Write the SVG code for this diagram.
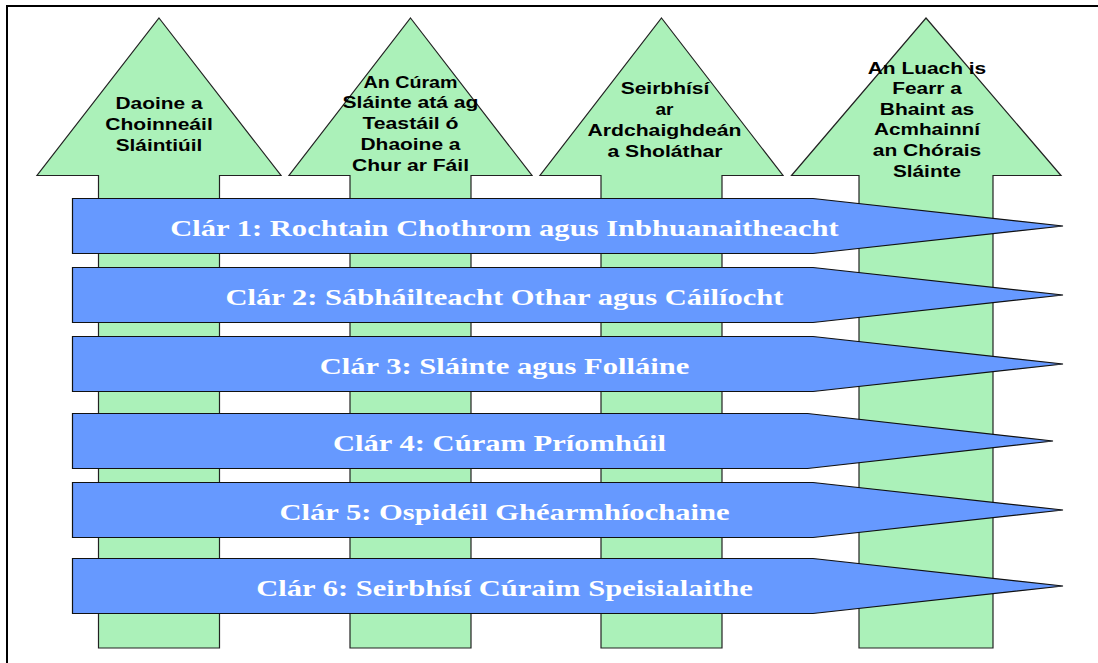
<svg xmlns="http://www.w3.org/2000/svg" width="1098" height="663" viewBox="0 0 1098 663">
<defs>
<style>
.arrow{fill:#ABF1B9;stroke:#222;stroke-width:1.2}
.banner{fill:#6699FF;stroke:#111;stroke-width:1.2}
.at{font-family:"Liberation Sans",Arial,sans-serif;font-weight:bold;font-size:16px;fill:#000;text-anchor:middle}
.bt{font-family:"Liberation Serif","Times New Roman",serif;font-weight:bold;font-size:23.5px;fill:#fff;text-anchor:middle}
</style>
</defs>
<rect x="0" y="0" width="1098" height="663" fill="#fff"/>
<rect id="frame" x="7" y="6" width="1200" height="720" fill="none" stroke="#000" stroke-width="2"/>

<g id="arrow1">
<polygon class="arrow" points="159,18 281,175.5 219.5,175.5 219.5,648 98.5,648 98.5,175.5 37,175.5"/>
<text class="at" x="159" y="109" textLength="87" lengthAdjust="spacingAndGlyphs">Daoine a</text>
<text class="at" x="159" y="130" textLength="107.5" lengthAdjust="spacingAndGlyphs">Choinneáil</text>
<text class="at" x="159" y="150.5" textLength="86.5" lengthAdjust="spacingAndGlyphs">Sláintiúil</text>
</g>

<g id="arrow2">
<polygon class="arrow" points="410.5,18 532,175.5 471,175.5 471,648 350,648 350,175.5 289,175.5"/>
<text class="at" x="410.5" y="87.5" textLength="94" lengthAdjust="spacingAndGlyphs">An Cúram</text>
<text class="at" x="410.5" y="108.3" textLength="136" lengthAdjust="spacingAndGlyphs">Sláinte atá ag</text>
<text class="at" x="410.5" y="129.2" textLength="96" lengthAdjust="spacingAndGlyphs">Teastáil ó</text>
<text class="at" x="410.5" y="150" textLength="100" lengthAdjust="spacingAndGlyphs">Dhaoine a</text>
<text class="at" x="410.5" y="170.5" textLength="117" lengthAdjust="spacingAndGlyphs">Chur ar Fáil</text>
</g>

<g id="arrow3">
<polygon class="arrow" points="661.5,18 783,175.5 722,175.5 722,648 601,648 601,175.5 540,175.5"/>
<text class="at" x="665" y="94" textLength="88.7" lengthAdjust="spacingAndGlyphs">Seirbhísí</text>
<text class="at" x="664.5" y="115" textLength="18" lengthAdjust="spacingAndGlyphs">ar</text>
<text class="at" x="664.5" y="135.8" textLength="154" lengthAdjust="spacingAndGlyphs">Ardchaighdeán</text>
<text class="at" x="665" y="156.6" textLength="115" lengthAdjust="spacingAndGlyphs">a Sholáthar</text>
</g>

<g id="arrow4">
<polygon class="arrow" points="926,18 1061,175.5 993,175.5 993,648 859,648 859,175.5 791.5,175.5"/>
<text class="at" x="927" y="73.5" textLength="118.5" lengthAdjust="spacingAndGlyphs">An Luach is</text>
<text class="at" x="927" y="94" textLength="69.5" lengthAdjust="spacingAndGlyphs">Fearr a</text>
<text class="at" x="927" y="114.8" textLength="94.5" lengthAdjust="spacingAndGlyphs">Bhaint as</text>
<text class="at" x="927" y="135.4" textLength="106" lengthAdjust="spacingAndGlyphs">Acmhainní</text>
<text class="at" x="927" y="156" textLength="108.5" lengthAdjust="spacingAndGlyphs">an Chórais</text>
<text class="at" x="927" y="176.5" textLength="68" lengthAdjust="spacingAndGlyphs">Sláinte</text>
</g>

<g id="connectors"></g>

<g id="programme1">
<polygon class="banner" points="72.5,198.5 813,198.5 1063,226 813,253.5 72.5,253.5"/>
<text class="bt" x="504.5" y="236" textLength="668.5" lengthAdjust="spacingAndGlyphs">Clár 1: Rochtain Chothrom agus Inbhuanaitheacht</text>
</g>
<g id="programme2">
<polygon class="banner" points="72.5,267.5 813,267.5 1063,295 813,322.5 72.5,322.5"/>
<text class="bt" x="504.5" y="305" textLength="558" lengthAdjust="spacingAndGlyphs">Clár 2: Sábháilteacht Othar agus Cáilíocht</text>
</g>
<g id="programme3">
<polygon class="banner" points="72.5,336.5 813,336.5 1063,364 813,391.5 72.5,391.5"/>
<text class="bt" x="504.5" y="374" textLength="369.5" lengthAdjust="spacingAndGlyphs">Clár 3: Sláinte agus Folláine</text>
</g>
<g id="programme4">
<polygon class="banner" points="72.5,413.5 807.5,413.5 1053,441 807.5,468.5 72.5,468.5"/>
<text class="bt" x="499.5" y="451" textLength="333" lengthAdjust="spacingAndGlyphs">Clár 4: Cúram Príomhúil</text>
</g>
<g id="programme5">
<polygon class="banner" points="72.5,482.5 813,482.5 1063,510 813,537.5 72.5,537.5"/>
<text class="bt" x="504.5" y="520" textLength="450" lengthAdjust="spacingAndGlyphs">Clár 5: Ospidéil Ghéarmhíochaine</text>
</g>
<g id="programme6">
<polygon class="banner" points="72.5,558.5 813,558.5 1063,586 813,613.5 72.5,613.5"/>
<text class="bt" x="504.5" y="596" textLength="496.5" lengthAdjust="spacingAndGlyphs">Clár 6: Seirbhísí Cúraim Speisialaithe</text>
</g>
</svg>
